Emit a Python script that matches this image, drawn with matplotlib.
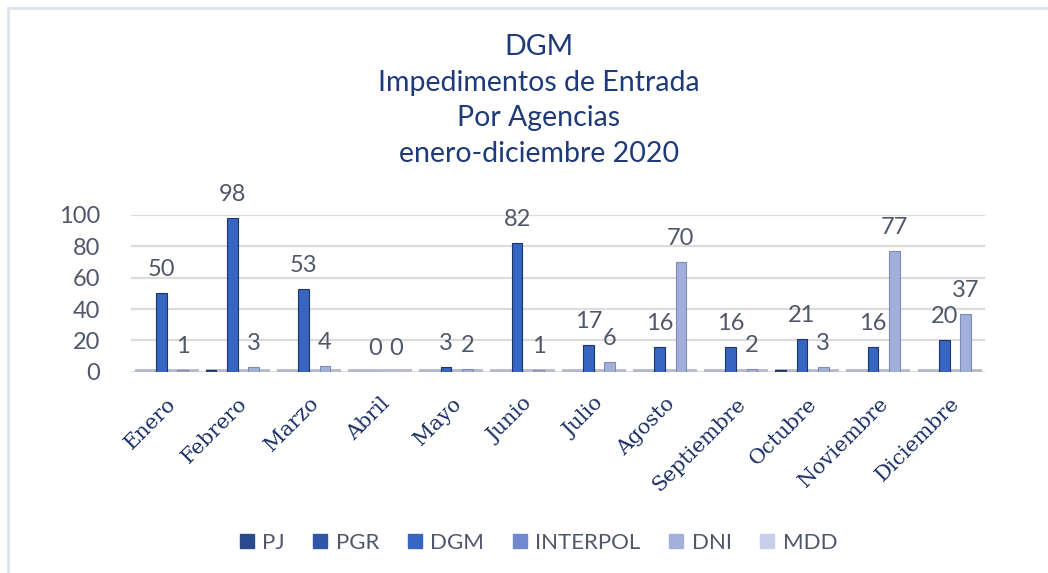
import matplotlib
matplotlib.use("Agg")
import matplotlib.pyplot as plt
import numpy as np
from matplotlib.lines import Line2D

# datos por mes
meses = ["Enero", "Febrero", "Marzo", "Abril", "Mayo", "Junio", "Julio",
         "Agosto", "Septiembre", "Octubre", "Noviembre", "Diciembre"]
agencias = ["PJ", "PGR", "DGM", "INTERPOL", "DNI", "MDD"]
pj = [0, 1, 0, 0, 0, 0, 0, 0, 0, 1, 0, 0]
pgr = [0, 0, 0, 0, 0, 0, 0, 0, 0, 0, 0, 0]
dgm = [50, 98, 53, 0, 3, 82, 17, 16, 16, 21, 16, 20]
interpol = [0, 0, 0, 0, 0, 0, 0, 0, 0, 0, 0, 0]
dni = [1, 3, 4, 0, 2, 1, 6, 70, 2, 3, 77, 37]
mdd = [0, 0, 0, 0, 0, 0, 0, 0, 0, 0, 0, 0]
series = [pj, pgr, dgm, interpol, dni, mdd]
colores = ["#2b4a8c", "#2e55a8", "#3766c2", "#6f88d0", "#a2afda", "#c8cfea"]
etiquetadas = [2, 4]  # DGM y DNI llevan etiqueta

azul = "#1f3a78"
gris = "#4f5869"
sans = ["Lato", "DejaVu Sans"]

fig = plt.figure(figsize=(10.48, 5.73), dpi=100)
ax = fig.add_axes([0.125, 0.351, 0.815, 0.274])

x = np.arange(len(meses))
w = 0.15
for i, vals in enumerate(series):
    pos = x + (i - 2.5) * w
    ax.bar(pos, vals, width=w, color=colores[i], edgecolor="#1d3566" if i < 3 else "#7d8cb5",
           linewidth=0.8, zorder=3)
    if i in etiquetadas:
        for p, v in zip(pos, vals):
            ax.text(p, v + 15, str(v), ha="center", va="center", fontsize=17,
                    color=gris, family=sans, zorder=4)

# piso
ax.bar(x, [1.6] * len(x), width=0.9, color="#b9bdcc", zorder=2)

ax.set_ylim(0, 100)
ax.set_xlim(-0.5, len(meses) - 0.5)
ax.set_yticks([0, 20, 40, 60, 80, 100])
ax.grid(axis="y", color="#dcdcdc", linewidth=1.6, zorder=0)
ax.set_axisbelow(True)
for s in ax.spines.values():
    s.set_visible(False)
ax.tick_params(axis="y", length=0, pad=22, labelsize=17, labelcolor=gris)
for t in ax.get_yticklabels():
    t.set_family(sans)
ax.set_xticks(x)
ax.set_xticklabels(meses, rotation=45, ha="right", rotation_mode="anchor",
                   fontsize=15, color="#1b2f66", family="DejaVu Serif")
ax.tick_params(axis="x", length=0, pad=16)

# titulo
titulo = ["DGM", "Impedimentos de Entrada", "Por Agencias", "enero-diciembre 2020"]
for k, linea in enumerate(titulo):
    fig.text(0.514, 1 - (47 + k * 35.7) / 573, linea, ha="center", va="center",
             fontsize=20.5, color=azul, family=sans)

# leyenda
handles = [Line2D([], [], marker="s", linestyle="", markersize=10, color=c) for c in colores]
fig.legend(handles, agencias, loc="center", bbox_to_anchor=(0.512, 0.052), ncol=6,
           frameon=False, labelcolor=gris, handletextpad=0.2, handlelength=1.0,
           columnspacing=1.1, prop={"family": sans, "size": 16})

# borde
fig.add_artist(Line2D([8 / 1048, 1], [1 - 8 / 573, 1 - 8 / 573], color="#dde3ec", linewidth=2))
fig.add_artist(Line2D([8 / 1048, 8 / 1048], [0, 1 - 8 / 573], color="#dde3ec", linewidth=2))

fig.savefig("out.png", dpi=100)
